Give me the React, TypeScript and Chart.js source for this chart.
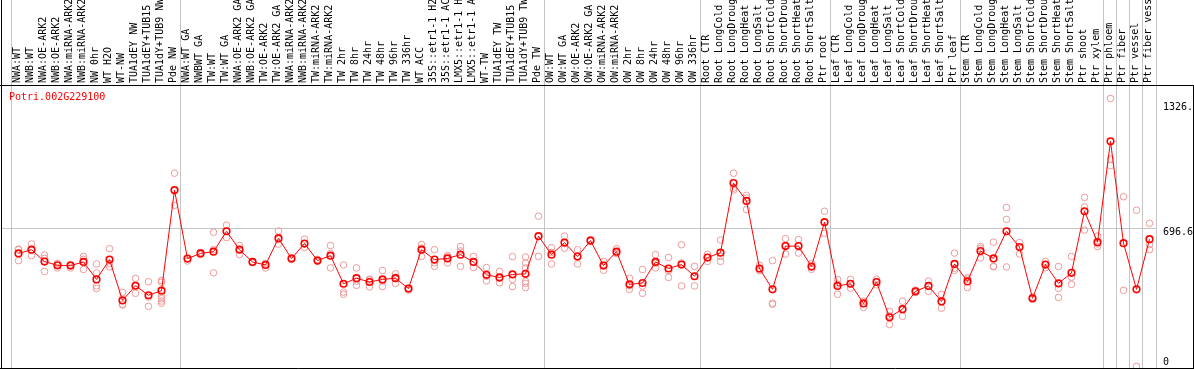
import { useEffect, useRef } from 'react';
import { Chart, registerables } from 'chart.js';

Chart.register(...registerables);

const geneId = 'Potri.002G229100';

const categories = [
  'NWA:WT', 'NWB:WT', 'NWA:OE-ARK2', 'NWB:OE-ARK2', 'NWA:miRNA-ARK2', 'NWB:miRNA-ARK2',
  'NW 0hr', 'WT H2O', 'WT-NW', 'TUA1dEY NW', 'TUA1dEY+TUB15 NW', 'TUA1dY+TUB9 NW', 'Pde NW',
  'NWA:WT GA', 'NWBWT GA', 'TW:WT', 'TW:WT GA', 'NWA:OE-ARK2 GA', 'NWB:OE-ARK2 GA',
  'TW:OE-ARK2', 'TW:OE-ARK2 GA', 'NWA:miRNA-ARK2', 'NWB:miRNA-ARK2', 'TW:miRNA-ARK2',
  'TW:miRNA-ARK2', 'TW 2hr', 'TW 8hr', 'TW 24hr', 'TW 48hr', 'TW 96hr', 'TW 336hr',
  'WT ACC', '35S::etr1-1 H2O', '35S::etr1-1 ACC', 'LMX5::etr1-1 H2O', 'LMX5::etr1-1 ACC',
  'WT-TW', 'TUA1dEY TW', 'TUA1dEY+TUB15 TW', 'TUA1dY+TUB9 TW', 'Pde TW',
  'OW:WT', 'OW:WT GA', 'OW:OE-ARK2', 'OW:OE-ARK2 GA', 'OW:miRNA-ARK2', 'OW:miRNA-ARK2',
  'OW 2hr', 'OW 8hr', 'OW 24hr', 'OW 48hr', 'OW 96hr', 'OW 336hr',
  'Root CTR', 'Root LongCold', 'Root LongDrought', 'Root LongHeat', 'Root LongSalt',
  'Root ShortCold', 'Root ShortDrought', 'Root ShortHeat', 'Root ShortSalt', 'Ptr root',
  'Leaf CTR', 'Leaf LongCold', 'Leaf LongDrought', 'Leaf LongHeat', 'Leaf LongSalt',
  'Leaf ShortCold', 'Leaf ShortDrought', 'Leaf ShortHeat', 'Leaf ShortSalt', 'Ptr leaf',
  'Stem CTR', 'Stem LongCold', 'Stem LongDrought', 'Stem LongHeat', 'Stem LongSalt',
  'Stem ShortCold', 'Stem ShortDrought', 'Stem ShortHeat', 'Stem ShortSalt', 'Ptr shoot',
  'Ptr xylem', 'Ptr phloem', 'Ptr fiber', 'Ptr vessel', 'Ptr fiber vessel',
];

const meanValues = [
  570, 589, 529, 510, 509, 527, 439, 539, 333, 407, 359, 382, 890,
  544, 570, 579, 682, 589, 527, 512, 647, 544, 620, 534, 559, 417, 445, 426, 439, 445, 393,
  589, 539, 545, 564, 527, 462, 449, 464, 467, 657,
  564, 625, 554, 635, 509, 579, 414, 421, 527, 494, 514, 455,
  549, 574, 925, 835, 494, 389, 607, 607, 504, 728,
  406, 417, 318, 426, 248, 289, 379, 406, 328, 517,
  429, 582, 545, 682, 602, 344, 514, 419, 472, 783, 627,
  1136, 622, 389, 642,
];

const replicateValues = [
  [592, 589, 534], [618, 589, 559], [562, 545, 479], [520, 510, 497], [515, 509, 497],
  [555, 540, 489], [517, 472, 406, 393], [594, 520, 502], [373, 314, 310], [444, 407, 369],
  [427, 350, 303], [434, 425, 355, 342, 330, 319], [975, 886, 813],
  [544, 532], [575, 565], [677, 589, 472], [713, 682, 650], [610, 589, 564], [530, 524],
  [520, 497], [683, 640, 617], [548, 540], [642, 618, 600], [540, 530], [610, 570, 497],
  [512, 375, 364], [497, 430, 409], [440, 436, 401], [484, 430, 403], [467, 450, 419],
  [395, 385], [615, 597, 555], [589, 523, 505], [560, 552, 522], [605, 583, 505],
  [555, 527, 499], [499, 455, 432], [480, 445, 422], [554, 440, 403],
  [552, 522, 497, 430, 419, 398], [758, 657, 555],
  [599, 575, 517], [658, 620, 597], [589, 555, 517], [640, 630], [530, 512, 485],
  [594, 573, 570], [445, 408, 389], [489, 405, 369], [564, 520, 497], [550, 483, 449],
  [614, 522, 406], [505, 455, 406],
  [565, 549, 530], [638, 555, 530], [975, 900, 890], [863, 850, 792], [510, 490, 482],
  [534, 319, 314], [645, 610, 567], [640, 610, 572], [520, 504, 490], [783, 728, 672],
  [439, 415, 364], [439, 417, 395], [330, 318, 298], [440, 426, 412], [278, 255, 211],
  [329, 290, 253], [385, 379, 373], [430, 408, 379], [363, 328, 294], [572, 495, 485],
  [447, 440, 398], [605, 595, 547], [627, 505, 503], [802, 742, 682, 502], [625, 602, 567],
  [350, 344, 338], [530, 514, 498], [504, 394, 348], [555, 450, 414], [853, 805, 688],
  [658, 618, 605],
  [1352, 1046, 1013], [856, 384], [788, 0], [722, 615, 589],
];

const groupBoundaries = [0, 13, 41, 53, 63, 73, 84, 85, 86, 87, 88];
const yTickValues = [0, 696.6, 1326];
const yTickLabels = ['0', '696.6', '1326.'];

const MONO = '"DejaVu Sans Mono", "Liberation Mono", monospace';
const GRID = '#c4c4c4';
const CLEAR = 'rgba(0,0,0,0)';

export default function App() {
  const ref = useRef<HTMLCanvasElement>(null);

  useEffect(() => {
    document.body.style.margin = '0';
    const canvas = ref.current;
    if (!canvas) return;

    const meanPoints = meanValues.map((v, i) => ({ x: i, y: v }));
    const repPoints = replicateValues.flatMap((arr, i) => arr.map((v) => ({ x: i, y: v })));
    const boundarySet = new Set(groupBoundaries);

    const framePlugin = {
      id: 'frame',
      afterDraw(chart: any) {
        const { ctx, chartArea, width } = chart;
        ctx.save();
        ctx.strokeStyle = '#000';
        ctx.lineWidth = 1;
        ctx.beginPath();
        ctx.moveTo(1.5, 0);
        ctx.lineTo(1.5, chartArea.bottom + 1);
        ctx.moveTo(0, chartArea.top + 0.5);
        ctx.lineTo(width, chartArea.top + 0.5);
        ctx.moveTo(0, chartArea.bottom + 0.5);
        ctx.lineTo(width, chartArea.bottom + 0.5);
        ctx.moveTo(width - 0.5, chartArea.top);
        ctx.lineTo(width - 0.5, chartArea.bottom + 1);
        ctx.stroke();
        ctx.fillStyle = '#ff0000';
        ctx.font = '10px ' + MONO;
        ctx.textBaseline = 'alphabetic';
        ctx.textAlign = 'left';
        ctx.fillText(geneId, chartArea.left + 8, chartArea.top + 15);
        ctx.restore();
      },
    };

    const chart = new Chart(canvas, {
      type: 'line',
      data: {
        datasets: [
          {
            data: meanPoints,
            borderColor: '#ff0000',
            borderWidth: 1,
            pointRadius: 3.3,
            pointBorderWidth: 1.6,
            pointBorderColor: '#ff0000',
            pointBackgroundColor: CLEAR,
            order: 0,
          } as any,
          {
            data: repPoints,
            showLine: false,
            pointRadius: 3.3,
            pointBorderWidth: 1,
            pointBorderColor: '#ee9a9a',
            pointBackgroundColor: CLEAR,
            order: 1,
          } as any,
        ],
      },
      options: {
        responsive: false,
        animation: false,
        layout: { autoPadding: false, padding: { left: 1, right: 0, top: 0, bottom: 2 } },
        plugins: { legend: { display: false }, tooltip: { enabled: false }, title: { display: false } },
        scales: {
          x: {
            type: 'linear',
            position: 'top',
            min: -1.346,
            max: 87.5,
            afterBuildTicks: (s: any) => {
              s.ticks = categories.map((_, i) => ({ value: i }));
            },
            afterFit: (s: any) => {
              s.height = 85;
              s.paddingLeft = 0;
              s.paddingRight = 0;
            },
            ticks: {
              autoSkip: false,
              minRotation: 90,
              maxRotation: 90,
              padding: -83,
              labelOffset: 11,
              color: '#000',
              font: { family: MONO, size: 10 },
              callback: (_v: any, i: number) => categories[i],
            },
            grid: {
              offset: true,
              drawTicks: true,
              tickLength: 85,
              lineWidth: 1,
              color: (c: any) => (c.index === undefined || boundarySet.has(c.index) ? GRID : CLEAR),
            },
            border: { display: false },
          },
          y: {
            type: 'linear',
            position: 'right',
            min: -8,
            max: 1420,
            afterBuildTicks: (s: any) => {
              s.ticks = yTickValues.map((v) => ({ value: v }));
            },
            afterFit: (s: any) => {
              s.width = 38;
              s.paddingTop = 0;
              s.paddingBottom = 0;
            },
            ticks: {
              padding: 7,
              color: '#000',
              font: { family: MONO, size: 10, lineHeight: 0.8 },
              callback: (_v: any, i: number) => (i === 0 ? [yTickLabels[i], ''] : ['', yTickLabels[i]]),
            },
            grid: {
              drawTicks: false,
              color: (c: any) => (c.tick && c.tick.value === 696.6 ? GRID : CLEAR),
            },
            border: { display: false },
          },
        },
      } as any,
      plugins: [framePlugin],
    });

    return () => chart.destroy();
  }, []);

  return <canvas ref={ref} width={1194} height={370} style={{ display: 'block' }} />;
}
